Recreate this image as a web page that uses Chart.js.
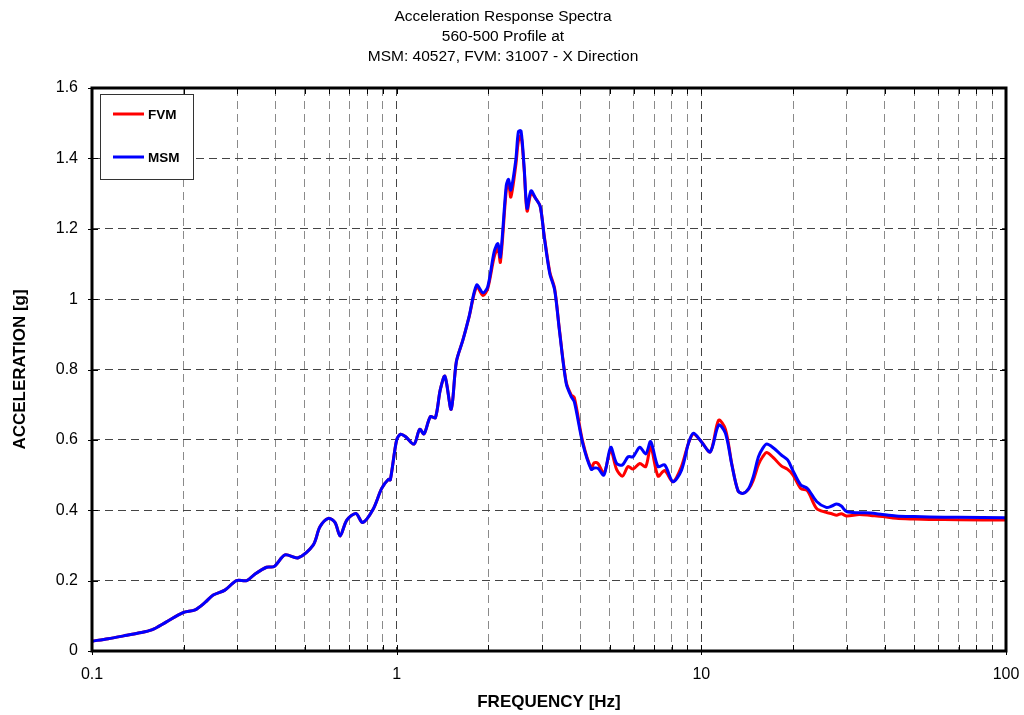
<!DOCTYPE html>
<html>
<head>
<meta charset="utf-8">
<script src="https://cdn.jsdelivr.net/npm/chart.js@4/dist/chart.umd.min.js"></script>
<style>
  html, body { margin: 0; padding: 0; background: #ffffff; }
  #wrap { width: 1024px; height: 715px; }
</style>
</head>
<body>
<div id="wrap"><canvas id="spectra" width="1024" height="715"></canvas></div>
<script>
// Frequencies [Hz] shared by both response spectra
const freq = [0.100,0.113,0.127,0.142,0.157,0.175,0.199,0.218,0.235,0.250,0.273,0.298,0.322,0.343,0.374,0.396,0.430,0.475,0.532,0.560,0.597,0.628,0.652,0.686,0.735,0.773,0.837,0.893,0.940,0.953,
  1.00,1.03,1.07,1.14,1.19,1.23,1.29,1.34,1.39,1.44,1.51,1.57,1.65,1.73,1.83,1.92,1.99,2.09,2.15,2.19,2.29,2.33,2.37,2.46,2.51,2.56,2.62,2.68,2.76,2.86,2.96,3.05,3.18,3.30,3.42,3.60,3.74,3.83,
  4.08,4.35,4.45,4.58,4.79,5.04,5.27,5.51,5.75,5.97,6.28,6.57,6.82,7.21,7.58,8.07,8.61,9.07,9.42,10.0,10.7,11.4,12.0,12.6,13.2,13.7,14.3,14.8,15.4,15.9,16.4,17.3,18.3,19.2,
  20.0,21.2,22.3,23.9,25.7,26.8,27.8,28.8,30.0,33.0,36.0,39.3,43.6,50.0,56.0,70.0,100];

// Spectral acceleration [g], FVM model
const fvm = [0.028,0.035,0.043,0.051,0.060,0.082,0.109,0.117,0.138,0.159,0.173,0.200,0.200,0.219,0.238,0.240,0.273,0.265,0.301,0.353,0.377,0.365,0.327,0.372,0.391,0.365,0.403,0.462,0.488,0.486,
  0.600,0.616,0.609,0.588,0.630,0.617,0.666,0.663,0.742,0.781,0.687,0.822,0.884,0.950,1.035,1.010,1.030,1.120,1.145,1.105,1.310,1.330,1.290,1.380,1.450,1.465,1.370,1.250,1.300,1.286,1.263,1.180,1.078,1.030,0.915,0.765,0.728,0.720,
  0.595,0.520,0.535,0.533,0.505,0.570,0.516,0.497,0.524,0.517,0.533,0.524,0.580,0.497,0.513,0.481,0.525,0.590,0.617,0.595,0.566,0.656,0.630,0.530,0.455,0.448,0.460,0.485,0.530,0.552,0.564,0.548,0.526,0.516,
  0.500,0.462,0.455,0.405,0.394,0.390,0.386,0.390,0.384,0.388,0.385,0.382,0.377,0.375,0.374,0.373,0.372];

// Spectral acceleration [g], MSM model
const msm = [0.028,0.035,0.043,0.051,0.060,0.082,0.109,0.117,0.138,0.159,0.173,0.200,0.200,0.219,0.238,0.240,0.273,0.265,0.301,0.353,0.377,0.365,0.327,0.372,0.391,0.365,0.403,0.462,0.488,0.486,
  0.600,0.616,0.609,0.588,0.630,0.617,0.666,0.663,0.742,0.781,0.687,0.822,0.884,0.952,1.040,1.018,1.035,1.135,1.158,1.120,1.324,1.340,1.310,1.395,1.476,1.478,1.376,1.258,1.308,1.286,1.263,1.177,1.073,1.026,0.912,0.761,0.723,0.708,
  0.590,0.516,0.520,0.519,0.500,0.579,0.533,0.529,0.552,0.552,0.579,0.560,0.595,0.524,0.529,0.481,0.514,0.590,0.619,0.595,0.566,0.642,0.619,0.528,0.455,0.448,0.462,0.495,0.552,0.576,0.588,0.576,0.557,0.543,
  0.512,0.472,0.462,0.425,0.408,0.412,0.418,0.412,0.396,0.393,0.392,0.388,0.384,0.382,0.381,0.380,0.379];

// Axis ticks
const xGridValues = [0.1,0.2,0.3,0.4,0.5,0.6,0.7,0.8,0.9,1,2,3,4,5,6,7,8,9,10,20,30,40,50,60,70,80,90,100];
const decadeValues = [0.1, 1, 10, 100];
const decadeLabels = ['0.1', '1', '10', '100'];
const yMin = 0, yMax = 1.6, yStep = 0.2;

const titleLines = ['Acceleration Response Spectra', '560-500 Profile at', 'MSM: 40527, FVM: 31007 - X Direction'];
const FONT = "'Liberation Sans', Arial, sans-serif";

const toPoints = (ys) => freq.map((f, i) => ({ x: f, y: ys[i] }));

// Thick frame, inward ticks and boxed legend around the plot area
const framePlugin = {
  id: 'frame',
  afterDraw(chart) {
    const { ctx, chartArea: a, scales: { x, y } } = chart;
    ctx.save();
    // inward tick marks
    ctx.strokeStyle = '#000';
    ctx.lineWidth = 1;
    ctx.setLineDash([]);
    ctx.beginPath();
    xGridValues.forEach(v => {
      const px = Math.round(x.getPixelForValue(v)) + 0.5;
      const isDecade = decadeValues.includes(v);
      ctx.moveTo(px, a.bottom + (isDecade ? 4 : 0));
      ctx.lineTo(px, a.bottom - 6);
      ctx.moveTo(px, a.top);
      ctx.lineTo(px, a.top + 6);
    });
    for (let v = yMin; v <= yMax + 1e-9; v += yStep) {
      const py = Math.round(y.getPixelForValue(v)) + 0.5;
      ctx.moveTo(a.left - 4, py);
      ctx.lineTo(a.left + 6, py);
      ctx.moveTo(a.right, py);
      ctx.lineTo(a.right - 6, py);
    }
    ctx.stroke();
    // frame
    ctx.lineWidth = 3;
    ctx.strokeRect(a.left, a.top, a.right - a.left, a.bottom - a.top);

    // legend box
    const bx = a.left + 8, by = a.top + 6, bw = 93, bh = 85;
    ctx.fillStyle = '#fff';
    ctx.fillRect(bx, by, bw, bh);
    ctx.lineWidth = 1;
    ctx.strokeStyle = '#333';
    ctx.strokeRect(bx + 0.5, by + 0.5, bw, bh);
    const rows = [chart.data.datasets[0], chart.data.datasets[1]];
    rows.forEach((ds, i) => {
      const ly = by + 20 + i * 43;
      ctx.strokeStyle = ds.borderColor;
      ctx.lineWidth = 3;
      ctx.beginPath();
      ctx.moveTo(bx + 13, ly);
      ctx.lineTo(bx + 44, ly);
      ctx.stroke();
      ctx.fillStyle = '#000';
      ctx.font = "bold 13.5px " + FONT;
      ctx.textBaseline = 'middle';
      ctx.textAlign = 'left';
      ctx.fillText(ds.label, bx + 48, ly + 1);
    });
    ctx.restore();
  }
};

new Chart(document.getElementById('spectra'), {
  type: 'line',
  data: {
    datasets: [
      { label: 'FVM', data: toPoints(fvm), borderColor: '#ff0000', borderWidth: 3, pointRadius: 0, tension: 0.3, order: 1 },
      { label: 'MSM', data: toPoints(msm), borderColor: '#0000ff', borderWidth: 3, pointRadius: 0, tension: 0.3, order: 0 }
    ]
  },
  options: {
    responsive: false,
    animation: false,
    devicePixelRatio: 1,
    layout: { padding: { left: 0, right: 18, top: 0, bottom: 0 } },
    plugins: {
      legend: { display: false },
      tooltip: { enabled: false },
      title: {
        display: true,
        text: titleLines,
        color: '#000',
        font: { family: FONT, size: 15.5, weight: 'normal', lineHeight: 20 / 15.5 },
        padding: { top: 7, bottom: 21 }
      }
    },
    scales: {
      x: {
        type: 'logarithmic',
        min: 0.1,
        max: 100,
        afterBuildTicks: (scale) => { scale.ticks = xGridValues.map(v => ({ value: v })); },
        afterFit: (scale) => { scale.height = 64; scale.paddingLeft = 0; scale.paddingRight = 0; },
        ticks: {
          autoSkip: false,
          maxRotation: 0,
          padding: 14,
          color: '#000',
          font: { family: FONT, size: 16 },
          callback: (value) => {
            const i = decadeValues.indexOf(value);
            return i >= 0 ? decadeLabels[i] : '';
          }
        },
        grid: {
          drawTicks: false,
          color: (c) => (c.tick && decadeValues.includes(c.tick.value)) ? '#444' : '#8a8a8a',
          lineWidth: 1
        },
        border: { display: false, dash: [8, 5] },
        title: {
          display: true,
          text: 'FREQUENCY [Hz]',
          color: '#000',
          font: { family: FONT, size: 17, weight: 'bold' },
          padding: { top: 0, bottom: 2 }
        }
      },
      y: {
        min: yMin,
        max: yMax,
        afterFit: (scale) => { scale.width = 92; scale.paddingTop = 0; scale.paddingBottom = 0; },
        ticks: {
          stepSize: yStep,
          padding: 14,
          color: '#000',
          font: { family: FONT, size: 16 },
          callback: (value) => String(+value.toFixed(1))
        },
        grid: { drawTicks: false, color: '#444', lineWidth: 1 },
        border: { display: false, dash: [8, 5] },
        title: {
          display: true,
          text: 'ACCELERATION [g]',
          color: '#000',
          font: { family: FONT, size: 17, weight: 'bold' },
          padding: { top: 10, bottom: 0 }
        }
      }
    }
  },
  plugins: [framePlugin]
});
</script>
</body>
</html>
